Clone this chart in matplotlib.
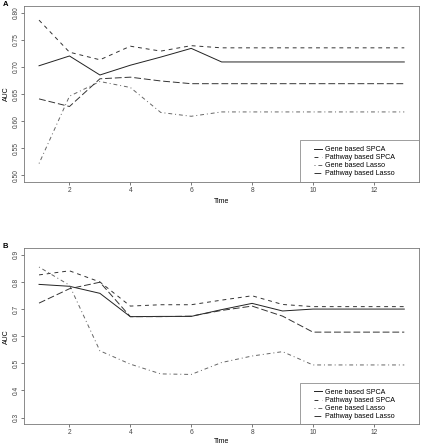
import matplotlib
matplotlib.use("Agg")
import matplotlib.pyplot as plt
from matplotlib.patches import Rectangle

plt.rcParams['font.family'] = ['Liberation Sans', 'DejaVu Sans']

time = [1, 2, 3, 4, 5, 6, 7, 8, 9, 10, 11, 12, 13]

# panel A
a_gene_spca = [0.702, 0.720, 0.685, 0.703, 0.718, 0.734, 0.709, 0.709, 0.709, 0.709, 0.709, 0.709, 0.709]
a_path_spca = [0.786, 0.727, 0.713, 0.738, 0.729, 0.739, 0.735, 0.735, 0.735, 0.735, 0.735, 0.735, 0.735]
a_gene_lasso = [0.522, 0.646, 0.673, 0.662, 0.616, 0.609, 0.617, 0.617, 0.617, 0.617, 0.617, 0.617, 0.617]
a_path_lasso = [0.641, 0.627, 0.678, 0.681, 0.674, 0.669, 0.669, 0.669, 0.669, 0.669, 0.669, 0.669, 0.669]

# panel B
b_gene_spca = [0.791, 0.784, 0.758, 0.672, 0.673, 0.673, 0.698, 0.721, 0.693, 0.700, 0.700, 0.700, 0.700]
b_path_spca = [0.826, 0.841, 0.800, 0.711, 0.716, 0.716, 0.733, 0.749, 0.717, 0.709, 0.709, 0.709, 0.709]
b_gene_lasso = [0.855, 0.788, 0.546, 0.497, 0.461, 0.459, 0.503, 0.527, 0.543, 0.494, 0.494, 0.494, 0.494]
b_path_lasso = [0.722, 0.775, 0.799, 0.672, 0.672, 0.674, 0.695, 0.711, 0.674, 0.615, 0.615, 0.615, 0.615]

labels = ['Gene based SPCA', 'Pathway based SPCA', 'Gene based Lasso', 'Pathway based Lasso']
styles = ['-', (0, (4, 4)), (0, (1, 3, 4, 3)), (0, (7, 3))]
cols = ['#222222', '#333333', '#666666', '#333333']

fig = plt.figure(figsize=(4.21, 4.45), dpi=100)
axA = fig.add_axes([0.058, 0.591, 0.937, 0.3955])
axB = fig.add_axes([0.058, 0.047, 0.937, 0.395])


def panel(ax, series, ylim, yticks, ytl, letter, boxtop, xpad):
    for s, lab, ls, c in zip(series, labels, styles, cols):
        ax.plot(time, s, linestyle=ls, color=c, lw=0.7, label=lab)
    ax.set_xlim(0.52, 13.48)
    ax.set_ylim(*ylim)
    ax.set_xticks([2, 4, 6, 8, 10, 12])
    ax.set_yticks(yticks)
    ax.set_yticklabels(ytl, rotation=90, va='center')
    ax.tick_params(labelsize=4.8, length=2.5, width=0.5, pad=1, colors='#444444')
    for sp in ax.spines.values():
        sp.set_linewidth(0.6)
        sp.set_color('#777777')
    ax.set_xlabel('Time', fontsize=5, labelpad=xpad)
    ax.set_ylabel('AUC', fontsize=5, labelpad=2)
    # legend box like R's
    ax.add_patch(Rectangle((0.698, 0), 0.302, boxtop, transform=ax.transAxes,
                           fill=False, lw=0.5, edgecolor='#777777', zorder=4))
    ax.legend(loc='upper left', bbox_to_anchor=(0.735, boxtop - 0.035),
              fontsize=5.1, frameon=False, handlelength=1.1, borderpad=0,
              labelspacing=0.15, handletextpad=0.45, borderaxespad=0)
    fig.text(0.007, ax.get_position().y1 + 0.003, letter, fontsize=5.5,
             fontweight='bold', va='center')


panel(axA, [a_gene_spca, a_path_spca, a_gene_lasso, a_path_lasso], (0.488, 0.812),
      [0.50, 0.55, 0.60, 0.65, 0.70, 0.75, 0.80],
      ['0.50', '0.55', '0.60', '0.65', '0.70', '0.75', '0.80'], 'A', 0.239, 3)
panel(axB, [b_gene_spca, b_path_spca, b_gene_lasso, b_path_lasso], (0.276, 0.924),
      [0.3, 0.4, 0.5, 0.6, 0.7, 0.8, 0.9],
      ['0.3', '0.4', '0.5', '0.6', '0.7', '0.8', '0.9'], 'B', 0.235, 1.5)

fig.savefig('out.png', dpi=100)
